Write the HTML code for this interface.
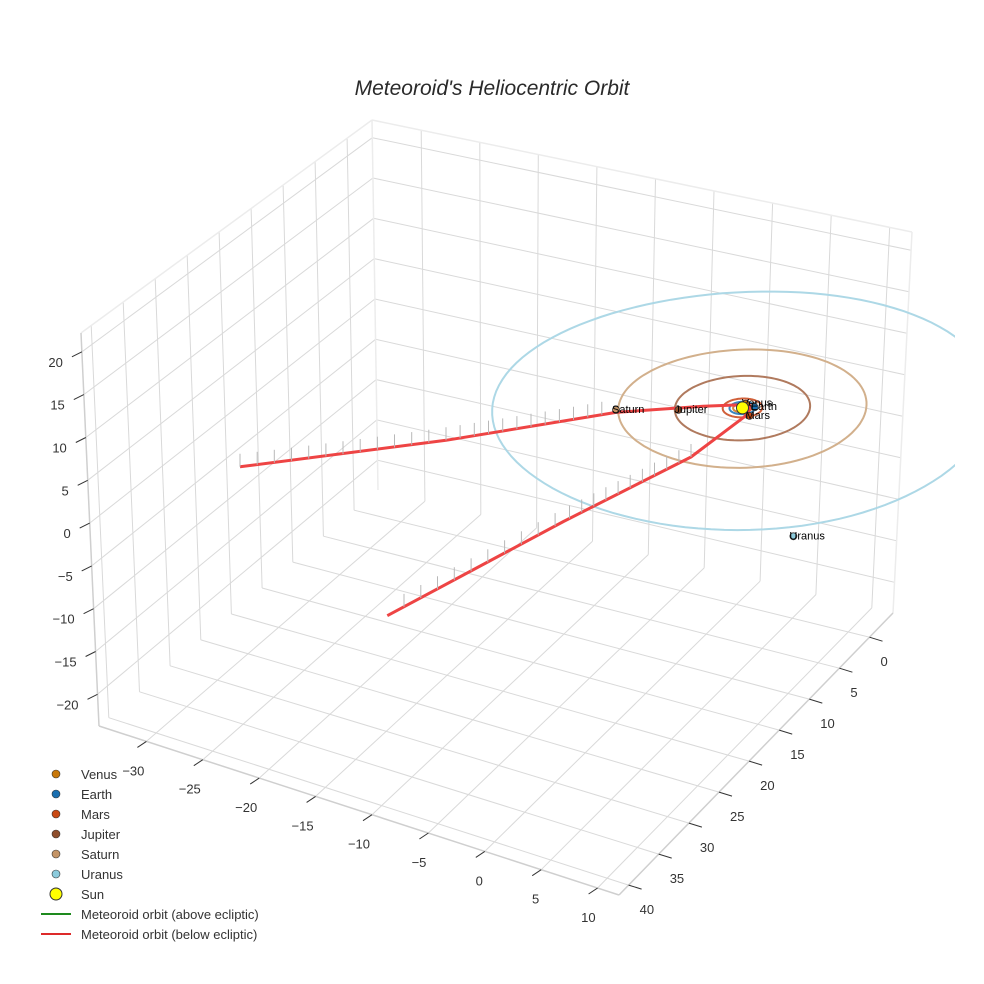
<!DOCTYPE html>
<html><head><meta charset="utf-8"><style>
html,body{margin:0;padding:0;background:#fff;}
svg{display:block;font-family:"Liberation Sans",sans-serif;}
</style></head><body>
<svg id="chart" width="984" height="984" viewBox="0 0 984 984">
<defs><clipPath id="plotclip"><rect x="0" y="0" width="955" height="984"/></clipPath></defs>
<text x="492" y="95" text-anchor="middle" font-size="21" font-style="italic" fill="#2a2a2a">Meteoroid's Heliocentric Orbit</text>
<g id="grid"></g>
<g id="axes"></g>
<g id="data" clip-path="url(#plotclip)"></g>
<g id="legend"></g>
</svg>
<script>
// ---- data ----
const xTicks = [-30,-25,-20,-15,-10,-5,0,5,10];
const yTicks = [0,5,10,15,20,25,30,35,40];
const zTicks = [-20,-15,-10,-5,0,5,10,15,20];
const planetNames = ["Venus","Earth","Mars","Jupiter","Saturn","Uranus"];
const planetX = [-0.1,0.8,1.1,-4.3,-8.6,13.0];
const planetY = [-0.7,-0.5,0.9,2.4,4.5,16.0];
const planetZ = [0,0,0,0,0,0];
const orbitRadii = [0.72,1.0,1.52,5.2,9.54,19.2];
const planetColors = ["#c8780a","#1a6fb0","#c94a14","#8e4e2c","#c49466","#8ccbdc"];
const orbitColors = ["#d4863a","#3a86c0","#d0603a","#b07a5e","#d2b08c","#add8e6"];
const pathX = [-29.5,-18,-8.6,-3,-0.8,0.3,0.6,0.5,-2,-8,-16];
const pathY = [26.3,14.5,4.5,0.8,-0.3,-0.6,0,0.6,4.5,14,27.8];
const pathZ = [-0.5,-0.4,-0.3,-0.2,-0.1,0,-0.1,-0.5,-3.5,-6.9,-12];

// ---- scene geometry ----
const XR=[-34.2,11.9], YR=[-3.9,41.6], ZR=[-23.7,22.2];
const C = {
  b:{B:[378,490],R:[893,613],L:[99,726],F:[619,895]},
  t:{B:[372,120],R:[912,232],L:[81,333],F:[628,485]}
};
function bil(f,u,v){
  const a=[f.B[0]+u*(f.R[0]-f.B[0]), f.B[1]+u*(f.R[1]-f.B[1])];
  const b=[f.L[0]+u*(f.F[0]-f.L[0]), f.L[1]+u*(f.F[1]-f.L[1])];
  return [a[0]+v*(b[0]-a[0]), a[1]+v*(b[1]-a[1])];
}
function P(x,y,z){
  const u=(x-XR[0])/(XR[1]-XR[0]), v=(y-YR[0])/(YR[1]-YR[0]), w=(z-ZR[0])/(ZR[1]-ZR[0]);
  const p=bil(C.b,u,v), q=bil(C.t,u,v);
  return [p[0]+w*(q[0]-p[0]), p[1]+w*(q[1]-p[1])];
}
const NS="http://www.w3.org/2000/svg";
function mk(parent,tag,attrs){const e=document.createElementNS(NS,tag);for(const k in attrs)e.setAttribute(k,attrs[k]);parent.appendChild(e);return e;}
function line(parent,a,b,stroke,w){return mk(parent,"line",{x1:a[0].toFixed(1),y1:a[1].toFixed(1),x2:b[0].toFixed(1),y2:b[1].toFixed(1),stroke:stroke,"stroke-width":w});}
const grid=document.getElementById("grid"), axes=document.getElementById("axes"), data=document.getElementById("data"), legend=document.getElementById("legend");
const GC="#d9d9d9";
xTicks.forEach(x=>{const l=line(grid,P(x,YR[0],ZR[0]),P(x,YR[1],ZR[0]),GC,1);


const l2=line(grid,P(x,YR[0],ZR[0]),P(x,YR[0],ZR[1]),GC,1);

});
yTicks.forEach(y=>{const l=line(grid,P(XR[0],y,ZR[0]),P(XR[1],y,ZR[0]),GC,1);


const l2=line(grid,P(XR[0],y,ZR[0]),P(XR[0],y,ZR[1]),GC,1);

});
zTicks.forEach(z=>{const l=line(grid,P(XR[0],YR[0],z),P(XR[1],YR[0],z),GC,1);


const l2=line(grid,P(XR[0],YR[0],z),P(XR[0],YR[1],z),GC,1);

});
[[P(XR[0],YR[0],ZR[0]),P(XR[0],YR[0],ZR[1])],[P(XR[1],YR[0],ZR[0]),P(XR[1],YR[0],ZR[1])],
 [P(XR[0],YR[0],ZR[1]),P(XR[1],YR[0],ZR[1])],[P(XR[0],YR[0],ZR[1]),P(XR[0],YR[1],ZR[1])]].forEach(s=>{
 const l=line(grid,s[0],s[1],"#ececec",1.5);
 
 });
const AC="#cfcfcf";
let al=line(axes,P(XR[0],YR[1],ZR[0]),P(XR[1],YR[1],ZR[0]),AC,1.5);


al=line(axes,P(XR[1],YR[0],ZR[0]),P(XR[1],YR[1],ZR[0]),AC,1.5);


al=line(axes,P(XR[0],YR[1],ZR[0]),P(XR[0],YR[1],ZR[1]),AC,1.5);


function tlabel(p,txt,anchor,name){const t=mk(axes,"text",{x:p[0].toFixed(1),y:p[1].toFixed(1),"text-anchor":anchor,"font-size":"13",fill:"#333"});t.textContent=txt;

}
const fmt=v=>v<0?"\u2212"+Math.abs(v):String(v);
xTicks.forEach(x=>{const a=P(x,YR[1],ZR[0]);const b=[a[0]-9,a[1]+6];
const l=line(axes,a,b,"#333",1);


tlabel([a[0]-2,a[1]+34],fmt(x),"end","x-tick-label");});
yTicks.forEach(y=>{const a=P(XR[1],y,ZR[0]);const b=[a[0]+13,a[1]+4];
const l=line(axes,a,b,"#333",1);


tlabel([a[0]+11,a[1]+29],fmt(y),"start","y-tick-label");});
zTicks.forEach(z=>{const a=P(XR[0],YR[1],z);const b=[a[0]-10,a[1]+5];
const l=line(axes,a,b,"#333",1);


tlabel([a[0]-19,a[1]+15],fmt(z),"end","z-tick-label");});
orbitRadii.forEach((r,i)=>{let d="";for(let k=0;k<=120;k++){const a=k/120*2*Math.PI;const p=P(r*Math.cos(a),r*Math.sin(a),0);d+=(k?"L":"M")+p[0].toFixed(1)+","+p[1].toFixed(1);}
const o=mk(data,"path",{d:d,fill:"none",stroke:orbitColors[i],"stroke-width":2});

});
let pd="";pathX.forEach((x,i)=>{const p=P(x,pathY[i],pathZ[i]);pd+=(i?"L":"M")+p[0].toFixed(1)+","+p[1].toFixed(1);});
const mp=mk(data,"path",{d:pd,fill:"none",stroke:"#ee4444","stroke-width":3,"stroke-linejoin":"round"});


function cones(i0,i1,n){for(let k=0;k<n;k++){const t=k/n*(i1-i0);const i=Math.min(i0+Math.floor(t),i1-1);const f=i0+t-i;
 const x=pathX[i]+f*(pathX[i+1]-pathX[i]),y=pathY[i]+f*(pathY[i+1]-pathY[i]),z=pathZ[i]+f*(pathZ[i+1]-pathZ[i]);
 const p=P(x,y,z);const q=[p[0],p[1]-13];
 const c=line(data,p,q,"#b8b8b8",1);
 
 }}
cones(0,2,24);cones(8,10,21);
planetNames.forEach((nm,i)=>{const p=P(planetX[i],planetY[i],planetZ[i]);
const c=mk(data,"circle",{cx:p[0].toFixed(1),cy:p[1].toFixed(1),r:3.5,fill:planetColors[i],stroke:"#333","stroke-width":0.8});


const t=mk(data,"text",{x:(p[0]-4).toFixed(1),y:(p[1]+3).toFixed(1),"font-size":"11",fill:"#000"});t.textContent=nm;

});
const sp=P(0,0,0);
const sun=mk(data,"circle",{cx:sp[0].toFixed(1),cy:sp[1].toFixed(1),r:6,fill:"#ffff00",stroke:"#333","stroke-width":1});


const legNames=["Venus","Earth","Mars","Jupiter","Saturn","Uranus","Sun","Meteoroid orbit (above ecliptic)","Meteoroid orbit (below ecliptic)"];
legNames.forEach((nm,i)=>{const y=774+i*20;
 if(i<6){const c=mk(legend,"circle",{cx:56,cy:y,r:4,fill:planetColors[i],stroke:"#333","stroke-width":0.6});
 
 }
 else if(i==6){const c=mk(legend,"circle",{cx:56,cy:y,r:6,fill:"#ffff00",stroke:"#333","stroke-width":1});
 
 }
 else{const l=line(legend,[41,y],[71,y],i==7?"#1e8a1e":"#dd2a2a",2);
 
 }
 const t=mk(legend,"text",{x:81,y:y+5,"font-size":"13",fill:"#333"});t.textContent=nm;
 
 });
</script>
</body></html>
